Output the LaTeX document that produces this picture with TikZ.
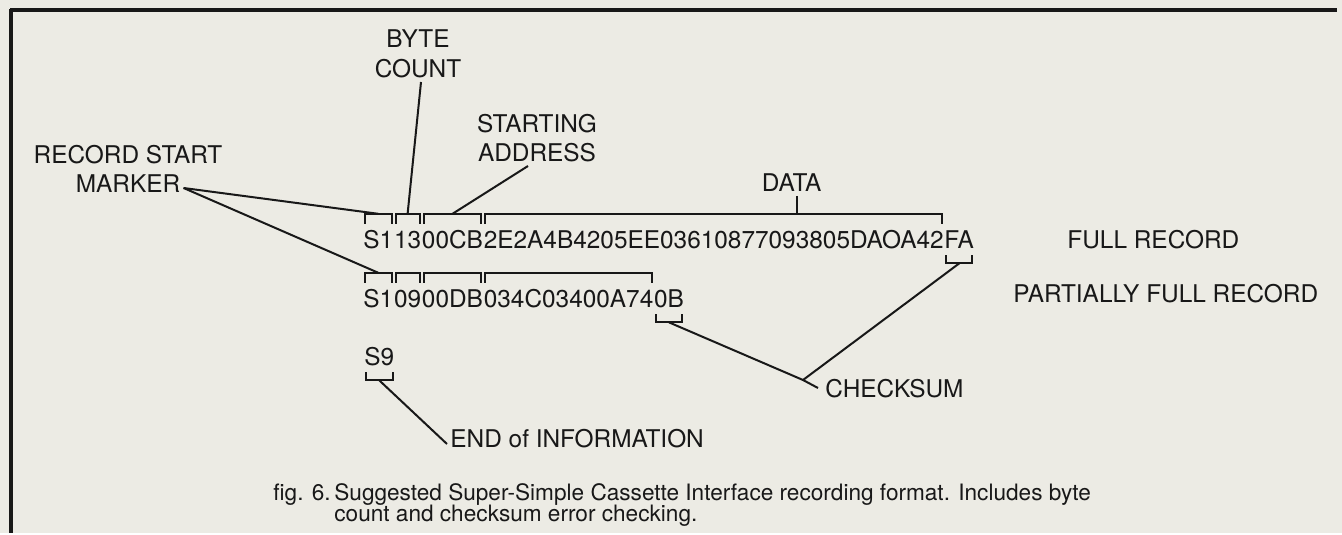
\documentclass[tikz,border=0pt]{standalone}
\usepackage{fontspec}
\setmainfont{TeX Gyre Heros}
\usetikzlibrary{calc}

\definecolor{paper}{RGB}{236,235,228}
\definecolor{ink}{RGB}{24,24,24}

\tikzset{
	lbl/.style={inner sep=0pt, anchor=base, font=\fontsize{12.2}{14}\selectfont},
	hex/.style={inner sep=0pt, anchor=base west, text height=8.9pt, text depth=0pt,
		font=\fontsize{12.2}{14}\selectfont},
	captxt/.style={inner sep=0pt, anchor=base west, font=\fontsize{11.3}{13}\selectfont},
	lead/.style={line width=1pt},
	brace/.style={line width=1pt}
}

% bracket over one field, its middle is kept as (field-top)
\newcommand{\braceover}[1]{%
	\draw[brace] ($(#1.north west)+(2,-6)$) |- ($(#1.north)+(0,-16)$) coordinate (#1-top)
		-| ($(#1.north east)+(-2,-6)$);}
% bracket under one field, its middle is kept as (field-bot)
\newcommand{\braceunder}[1]{%
	\draw[brace] ($(#1.south west)+(2,7)$) |- ($(#1.south)+(0,15)$) coordinate (#1-bot)
		-| ($(#1.south east)+(-2,7)$);}

\begin{document}
\begin{tikzpicture}[x=0.5pt, y=-0.5pt, color=ink]
	\fill[paper] (0,0) rectangle (1342,533);
	% frame
	\draw[line width=2.4pt] (10,10) -- (1337,10);
	\draw[line width=1.6pt] (11,9) -- (11,533);

	% full record
	\node[hex] (sa) at (363,248)      {S1};
	\node[hex] (ca) at (sa.base east) {13};
	\node[hex] (aa) at (ca.base east) {00CB};
	\node[hex] (da) at (aa.base east) {2E2A4B4205EE03610877093805DAOA42};
	\node[hex] (ka) at (da.base east) {FA};
	% partially full record
	\node[hex] (sb) at (363,307)      {S1};
	\node[hex] (cb) at (sb.base east) {09};
	\node[hex] (ab) at (cb.base east) {00DB};
	\node[hex] (db) at (ab.base east) {034C03400A74};
	\node[hex] (kb) at (db.base east) {0B};
	% end record
	\node[hex] (se) at (364,365)      {S9};

	\foreach \f in {sa,ca,aa,da,sb,cb,ab,db} {\braceover{\f}}
	\foreach \f in {ka,kb,se} {\braceunder{\f}}

	% labels
	\node[lbl] (byte)  at (418,48)  {BYTE};
	\node[lbl] (count) at (418,77)  {COUNT};
	\node[lbl] (start) at (537,133) {STARTING};
	\node[lbl] (addr)  at (537,162) {ADDRESS};
	\node[lbl] (rec)   at (128,163) {RECORD START};
	\node[lbl] (mark)  at (128,192) {MARKER};
	\coordinate (dstem) at ($(da.north west)!0.68!(da.north east)+(0,-16)$);
	\node[lbl] (data) at ($(dstem)+(-5,-22)$) {DATA};

	\node[lbl, anchor=base west] (full)  at (1067,248) {FULL RECORD};
	\node[lbl, anchor=base west] (part)  at (1013,302) {PARTIALLY FULL RECORD};
	\node[lbl, anchor=base west] (cksum) at (825,397)  {CHECKSUM};
	\node[lbl, anchor=base west] (eoi)   at (450,447)  {END of INFORMATION};

	% leads
	\coordinate (mk) at ($(mark.base east)+(3,-4)$);
	\draw[lead] (mk) -- (sa-top);
	\draw[lead] (mk) -- (sb-top);
	\draw[lead] ($(count.base)+(3,5)$) -- (ca-top);
	\draw[lead] ($(addr.base)+(-9,4)$) -- (aa-top);
	\draw[lead] ($(data.base)+(5,4)$) -- (dstem);

	\coordinate (ckj) at ($(cksum.base west)+(-22,-17)$);
	\draw[lead] (ka-bot) -- (ckj);
	\draw[lead] (kb-bot) -- (ckj) -- ($(cksum.base west)+(-7,-9)$);
	\draw[lead] (se-bot) -- ($(eoi.base west)+(-3,-3)$);

	% caption
	\node[captxt] (fig)  at (273,500) {fig. 6.};
	\node[captxt] (capa) at (334,500) {Suggested Super-Simple Cassette Interface recording format. Includes byte};
	\node[captxt] (capb) at (334,521) {count and checksum error checking.};
\end{tikzpicture}
\end{document}
